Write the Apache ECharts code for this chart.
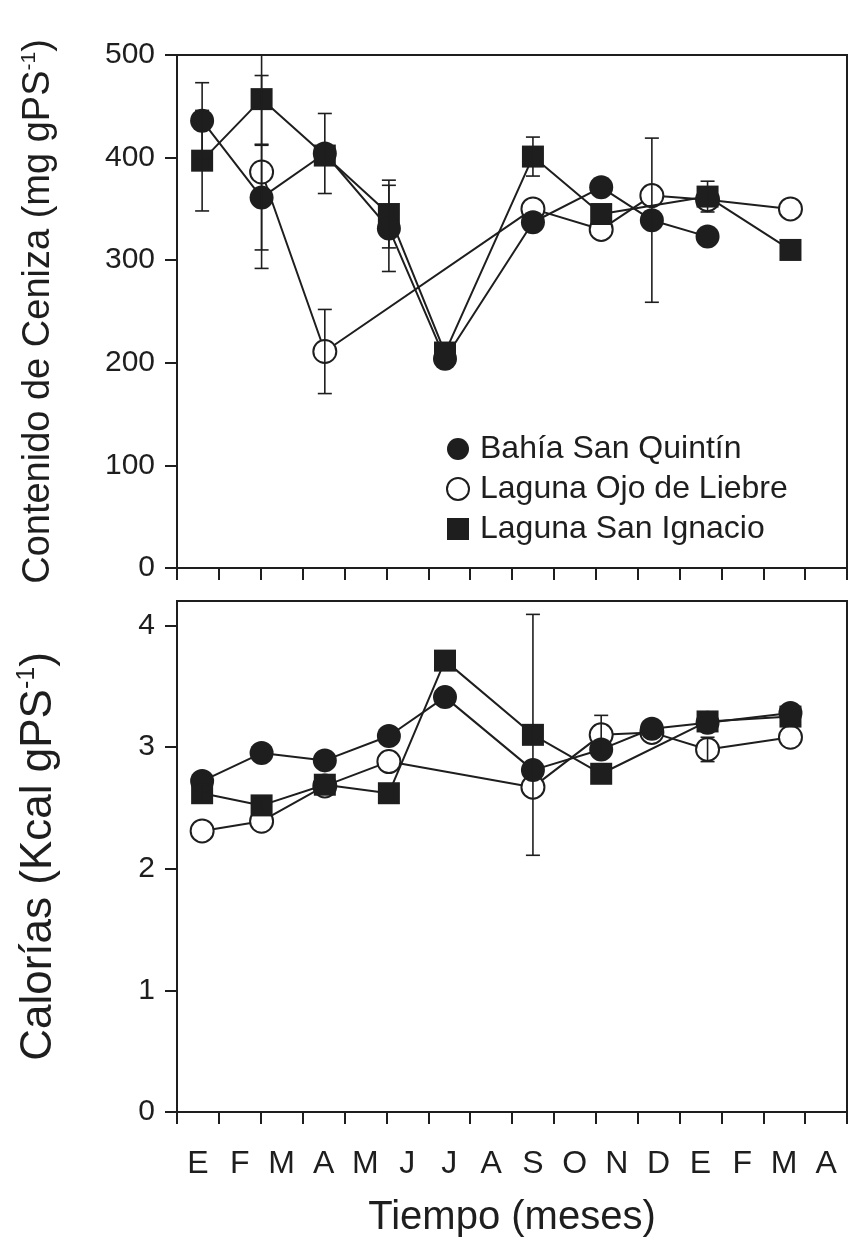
<!DOCTYPE html>
<html>
<head>
<meta charset="utf-8">
<script src="https://cdn.jsdelivr.net/npm/echarts@6/dist/echarts.min.js"></script>
<style>
html,body{margin:0;padding:0;background:#fff;}
#chart{width:849px;height:1245px;}
</style>
</head>
<body>
<div id="chart"></div>
<script>
// ---- data ----
const monthLabels = ['E','F','M','A','M','J','J','A','S','O','N','D','E','F','M','A'];
// sampling dates, in months from the start of the axis
const sampleMonths = [0.6, 2.02, 3.53, 5.06, 6.4, 8.5, 10.13, 11.34, 12.67, 14.65];
const seriesNames = ['Bahía San Quintín', 'Laguna Ojo de Liebre', 'Laguna San Ignacio'];

// Ash content (mg gPS-1)
const ashBahia      = [436, 361, 404, 331, 204, 337, 371, 339, 323, null];
const ashBahiaErr   = [37, 51, 39, 42, 0, 0, 0, 80, 0, null];
const ashOjo        = [null, 386, 211, null, null, 350, 330, 363, 359, 350];
const ashOjoErr     = [null, 94, 41, null, null, 0, 0, 0, 0, 0];
const ashIgnacio    = [397, 457, 402, 345, 210, 401, 345, null, 362, 310];
const ashIgnacioErr = [49, 44, 0, 33, 0, 19, 0, null, 15, 0];

// Calories (Kcal gPS-1)
const calBahia      = [2.72, 2.95, 2.89, 3.09, 3.41, 2.81, 2.98, 3.15, 3.20, 3.28];
const calBahiaErr   = [0, 0, 0, 0, 0, 0, 0, 0, 0, 0];
const calOjo        = [2.31, 2.39, 2.68, 2.88, null, 2.67, 3.10, 3.12, 2.98, 3.08];
const calOjoErr     = [0, 0, 0, 0, null, 0, 0.16, 0, 0.10, 0];
const calIgnacio    = [2.62, 2.52, 2.69, 2.62, 3.71, 3.10, 2.78, null, 3.21, 3.25];
const calIgnacioErr = [0.07, 0.06, 0, 0, 0, 0.99, 0, null, 0, 0];

const ashTicks = [0, 100, 200, 300, 400, 500];
const calTicks = [0, 1, 2, 3, 4];

// ---- helpers ----
const INK = '#1e1e1e';
const FONT = "'Liberation Sans', Arial, Helvetica, sans-serif";
const SQUARE = 'path://M0,0 L10,0 L10,10 L0,10 Z';

function pts(vals) {
  const out = [];
  vals.forEach((v, i) => { if (v != null) out.push([sampleMonths[i], v]); });
  return out;
}
function errs(vals, e) {
  const out = [];
  vals.forEach((v, i) => {
    if (v != null && e[i]) out.push([sampleMonths[i], v - e[i], v + e[i]]);
  });
  return out;
}
function errRender(params, api) {
  const x = api.value(0);
  const pLo = api.coord([x, api.value(1)]);
  const pHi = api.coord([x, api.value(2)]);
  const cw = 7;
  const style = { stroke: INK, lineWidth: 1.6 };
  return {
    type: 'group',
    children: [
      { type: 'line', shape: { x1: pLo[0], y1: pLo[1], x2: pHi[0], y2: pHi[1] }, style },
      { type: 'line', shape: { x1: pLo[0] - cw, y1: pLo[1], x2: pLo[0] + cw, y2: pLo[1] }, style },
      { type: 'line', shape: { x1: pHi[0] - cw, y1: pHi[1], x2: pHi[0] + cw, y2: pHi[1] }, style }
    ]
  };
}
const styles = {
  'Bahía San Quintín':   { symbol: 'circle', symbolSize: 24, itemStyle: { color: INK }, z: 4 },
  'Laguna Ojo de Liebre':{ symbol: 'circle', symbolSize: 23, itemStyle: { color: '#fff', borderColor: INK, borderWidth: 2 }, z: 2 },
  'Laguna San Ignacio':  { symbol: 'rect', symbolSize: 22, itemStyle: { color: INK }, z: 3 }
};
function lineSeries(name, vals, panel) {
  const s = styles[name];
  return {
    name, type: 'line',
    xAxisIndex: panel + 2, yAxisIndex: panel,
    data: pts(vals),
    symbol: s.symbol, symbolSize: s.symbolSize,
    itemStyle: s.itemStyle,
    lineStyle: { color: INK, width: 2 },
    z: s.z, animation: false
  };
}
function errSeries(name, vals, e, panel) {
  return {
    name, type: 'custom',
    xAxisIndex: panel + 2, yAxisIndex: panel,
    data: errs(vals, e),
    renderItem: errRender,
    encode: { x: 0, y: [1, 2] },
    clip: true, z: 5, animation: false, silent: true
  };
}

const tickStyle = { color: INK, width: 2 };
function catAxis(grid, showLabels) {
  return {
    type: 'category', gridIndex: grid, data: monthLabels, boundaryGap: true,
    axisLine: { lineStyle: { color: INK, width: 2 } },
    axisTick: { show: true, interval: 0, length: 12, lineStyle: tickStyle },
    axisLabel: { show: showLabels, interval: 0, fontSize: 32, color: INK, fontFamily: FONT, margin: 36 },
    splitLine: { show: false },
    name: showLabels ? 'Tiempo (meses)' : '',
    nameLocation: 'middle', nameGap: 86,
    nameTextStyle: { fontSize: 40, color: INK, fontFamily: FONT }
  };
}
function valX(grid) {
  return { type: 'value', gridIndex: grid, min: 0, max: 16, show: false };
}
function yAxis(grid, max, interval, ticks, title, fs, gap) {
  return {
    type: 'value', gridIndex: grid, min: 0, max, interval,
    axisLine: { show: true, lineStyle: { color: INK, width: 2 } },
    axisTick: { show: true, length: 12, lineStyle: tickStyle, customValues: ticks },
    axisLabel: { fontSize: 30, color: INK, fontFamily: FONT, margin: 22, customValues: ticks },
    splitLine: { show: false },
    name: '{t|' + title + '}{s|-1}{t|)}',
    nameLocation: 'middle', nameGap: gap, nameRotate: 90,
    nameTextStyle: {
      color: INK, fontFamily: FONT, fontSize: fs,
      rich: {
        t: { fontSize: fs, color: INK, fontFamily: FONT },
        s: { fontSize: Math.round(fs * 0.56), color: INK, fontFamily: FONT, padding: [0, 0, Math.round(fs * 0.5), 0] }
      }
    }
  };
}

const option = {
  backgroundColor: '#fff',
  animation: false,
  grid: [
    { left: 177, right: 2, top: 55, height: 513, show: true, borderColor: INK, borderWidth: 2, containLabel: false },
    { left: 177, right: 2, top: 601, height: 511, show: true, borderColor: INK, borderWidth: 2, containLabel: false }
  ],
  xAxis: [catAxis(0, false), catAxis(1, true), valX(0), valX(1)],
  yAxis: [
    yAxis(0, 500, 100, ashTicks, 'Contenido de Ceniza (mg gPS', 38, 118),
    yAxis(1, 4.2, 1, calTicks, 'Calorías (Kcal gPS', 44, 115)
  ],
  legend: {
    orient: 'vertical', left: 441, top: 428, itemGap: 8,
    itemWidth: 34, itemHeight: 22,
    textStyle: { fontSize: 32, color: INK, fontFamily: FONT },
    selectedMode: false,
    data: [
      { name: seriesNames[0], icon: 'circle', itemStyle: { color: INK } },
      { name: seriesNames[1], icon: 'circle', itemStyle: { color: '#fff', borderColor: INK, borderWidth: 2 } },
      { name: seriesNames[2], icon: SQUARE, itemStyle: { color: INK } }
    ]
  },
  series: [
    lineSeries(seriesNames[1], ashOjo, 0),
    lineSeries(seriesNames[2], ashIgnacio, 0),
    lineSeries(seriesNames[0], ashBahia, 0),
    errSeries(seriesNames[0], ashBahia, ashBahiaErr, 0),
    errSeries(seriesNames[1], ashOjo, ashOjoErr, 0),
    errSeries(seriesNames[2], ashIgnacio, ashIgnacioErr, 0),
    lineSeries(seriesNames[1], calOjo, 1),
    lineSeries(seriesNames[2], calIgnacio, 1),
    lineSeries(seriesNames[0], calBahia, 1),
    errSeries(seriesNames[0], calBahia, calBahiaErr, 1),
    errSeries(seriesNames[1], calOjo, calOjoErr, 1),
    errSeries(seriesNames[2], calIgnacio, calIgnacioErr, 1)
  ]
};

const chart = echarts.init(document.getElementById('chart'), null, { renderer: 'canvas' });
chart.setOption(option);
</script>
</body>
</html>
